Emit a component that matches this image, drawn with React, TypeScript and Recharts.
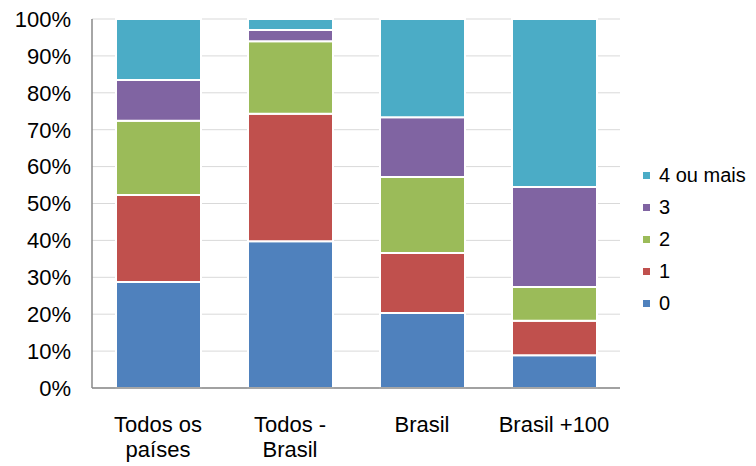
import React from "react";
import { BarChart, Bar, XAxis, YAxis, CartesianGrid } from "recharts";

const categories = ["Todos os\npaíses", "Todos -\nBrasil", "Brasil", "Brasil +100"];
const zero = [28.7, 39.8, 20.3, 8.9];
const one = [23.6, 34.5, 16.3, 9.3];
const two = [20.1, 19.7, 20.6, 9.2];
const three = [11.1, 3.0, 16.2, 27.1];
const fourPlus = [16.5, 3.0, 26.6, 45.5];
const yTicks = [0, 10, 20, 30, 40, 50, 60, 70, 80, 90, 100];

const series = [
  { key: "s0", name: "0", values: zero, color: "#4F81BD" },
  { key: "s1", name: "1", values: one, color: "#C0504D" },
  { key: "s2", name: "2", values: two, color: "#9BBB59" },
  { key: "s3", name: "3", values: three, color: "#8064A2" },
  { key: "s4", name: "4 ou mais", values: fourPlus, color: "#4BACC6" },
];

const data = categories.map((cat, i) => {
  const row: Record<string, string | number> = { cat };
  series.forEach((s) => (row[s.key] = s.values[i]));
  return row;
});

const FONT = "'Liberation Sans', Arial, sans-serif";

function CategoryTick(props: any) {
  const { x, y, payload } = props;
  const lines = String(payload.value).split("\n");
  return (
    <text x={x} y={y} textAnchor="middle" fontSize={22} fill="#000" fontFamily={FONT}>
      {lines.map((l, i) => (
        <tspan key={i} x={x} dy={i === 0 ? 36 : 25}>
          {l}
        </tspan>
      ))}
    </text>
  );
}

// legend sits to the right of the plot, last series on top
function LegendBox() {
  const items = [...series].reverse();
  return (
    <div style={{ position: "absolute", left: 643, top: 159, fontFamily: FONT, fontSize: 20, color: "#000" }}>
      {items.map((s) => (
        <div key={s.key} style={{ display: "flex", alignItems: "center", height: 32 }}>
          <span style={{ width: 7, height: 7, background: s.color, display: "inline-block", marginRight: 9 }} />
          <span>{s.name}</span>
        </div>
      ))}
    </div>
  );
}

export default function App() {
  return (
    <div style={{ position: "absolute", left: 0, top: 0, width: 756, height: 466, background: "#fff" }}>
      <BarChart
        width={756}
        height={466}
        data={data}
        margin={{ top: 19, right: 136, bottom: 0, left: 0 }}
        barSize={85}
      >
        <CartesianGrid vertical={false} stroke="#d9d9d9" />
        <XAxis
          dataKey="cat"
          height={78}
          tick={<CategoryTick />}
          tickLine={false}
          axisLine={{ stroke: "#888", strokeWidth: 1.5 }}
          interval={0}
        />
        <YAxis
          width={92}
          domain={[0, 100]}
          ticks={yTicks}
          tickFormatter={(v) => `${v}%`}
          tick={{ fontSize: 22, fill: "#000", fontFamily: FONT }}
          tickLine={false}
          tickSize={0}
          tickMargin={21}
          axisLine={{ stroke: "#888", strokeWidth: 1.5 }}
        />
        {series.map((s) => (
          <Bar
            key={s.key}
            dataKey={s.key}
            name={s.name}
            stackId="a"
            fill={s.color}
            stroke="#fff"
            strokeWidth={2}
            isAnimationActive={false}
          />
        ))}
      </BarChart>
      <LegendBox />
    </div>
  );
}
